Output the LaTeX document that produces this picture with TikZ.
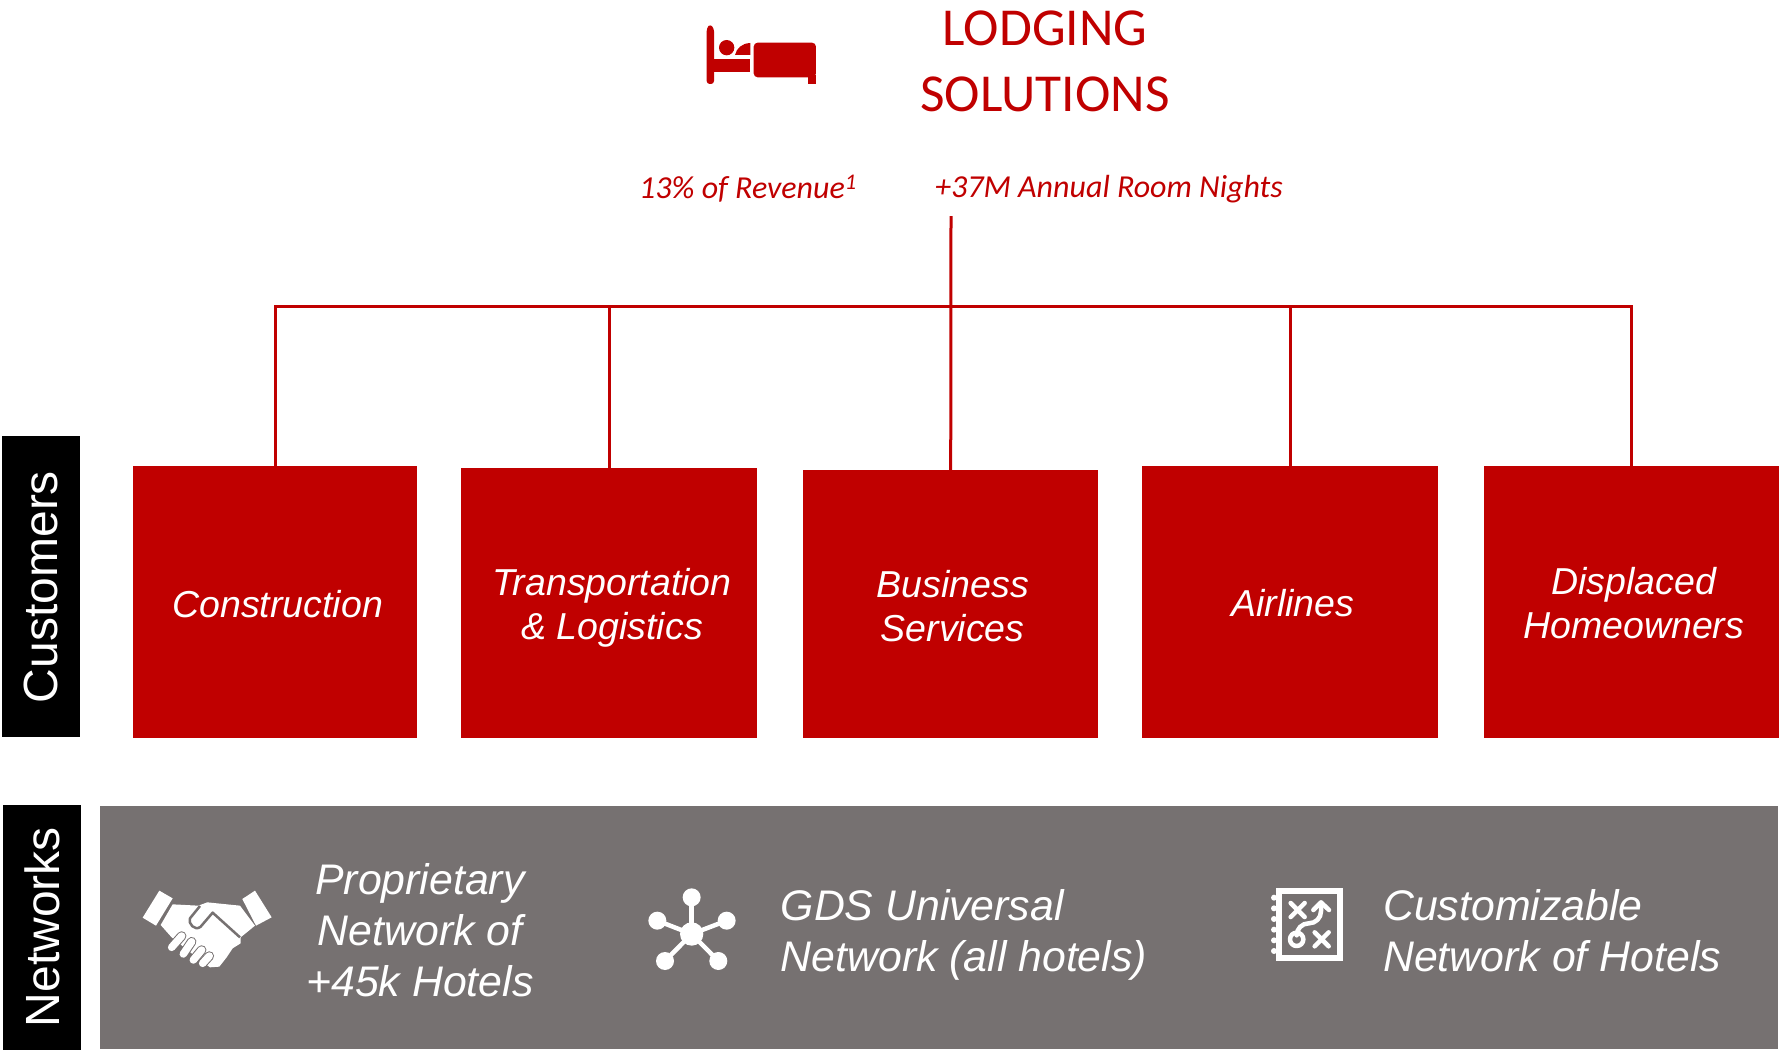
\documentclass[tikz,border=0pt]{standalone}
\usepackage{fontspec}
\setmainfont{Liberation Sans}
\newfontfamily\cali{Carlito}
\definecolor{lodgered}{HTML}{C00000}
\definecolor{netgray}{HTML}{767171}
\tikzset{
  redbox/.style={fill=lodgered,draw=none,inner sep=0pt,anchor=north west},
  boxlab/.style={text=white,font=\fontsize{37.5}{44}\selectfont\itshape,align=center,inner sep=0pt},
  sidelab/.style={fill=black,text=white,rotate=90,inner sep=0pt,font=\fontsize{48}{50}\selectfont},
  netlab/.style={text=white,font=\fontsize{42.8}{51}\selectfont\itshape,inner sep=0pt},
  conn/.style={draw=lodgered,line width=3pt},
  sublab/.style={text=lodgered,font=\cali\fontsize{32}{36}\selectfont\itshape,inner sep=0pt,anchor=west},
}
\begin{document}
\begin{tikzpicture}[x=1pt,y=-1pt]
\useasboundingbox (0,0) rectangle (1787,1049);
% boxes
\node[redbox,minimum width=284pt,minimum height=272pt,label={[boxlab,xshift=2.5pt,yshift=-2pt]center:Construction}] (con) at (133,466) {};
\node[redbox,minimum width=296pt,minimum height=270pt,label={[boxlab,xshift=3pt,yshift=-5pt]center:Transportation\\\& Logistics}] (tra) at (461,468) {};
\node[redbox,minimum width=295pt,minimum height=268pt,label={[boxlab,xshift=2pt,yshift=-2pt]center:Business\\Services}] (bus) at (803,470) {};
\node[redbox,minimum width=296pt,minimum height=272pt,label={[boxlab,xshift=2.5pt,yshift=-1pt]center:Airlines}] (air) at (1142,466) {};
\node[redbox,minimum width=295pt,minimum height=272pt,label={[boxlab,xshift=2pt,yshift=-1pt]center:Displaced\\Homeowners}] (dis) at (1484,466) {};
% connectors
\coordinate (top) at (951,216);
\coordinate (rail) at (951,306.5);
\draw[conn] (top) -- (bus.north);
\draw[conn] (rail) -| (con.north);
\draw[conn] (rail) -| (tra.north);
\draw[conn] (rail) -| (air.north);
\draw[conn] (rail) -| (dis.north);
% side labels
\node[sidelab,minimum width=301pt,minimum height=78pt] (cust) at (41,586) {\raisebox{-1pt}{\hspace{-2pt}Customers}};
\node[sidelab,minimum width=245pt,minimum height=78pt] (netw) at (42,927) {\raisebox{-1pt}{Networks}};
% grey band
\fill[netgray] (100,806) rectangle (1778,1049);
% title
\node[text=lodgered,font=\cali\fontsize{53.4}{66}\selectfont,align=center,inner sep=0pt] (title) at (1045,61.5) {LODGING\\SOLUTIONS};
\node[sublab] (rev) at (639,189) {13\% of Revenue\textsuperscript{1}};
\node[sublab] (rooms) at (935,189) {+37M Annual Room Nights};
% bed icon
\begin{scope}[shift={(680,0)},x=0.3333pt,y=-0.3333pt]
\fill[lodgered,rounded corners=3pt] (80,85) -- (90,72) -- (102,85) -- (102,252) -- (80,252) -- cycle;
\fill[lodgered] (102,178) rectangle (211,215);
\fill[lodgered] (140,143) circle (23);
\fill[lodgered] (165,165) .. controls (170,145) and (185,130) .. (211,129) -- (211,165) -- cycle;
\fill[lodgered,rounded corners=4pt] (221,128) -- (408,128) -- (408,180) -- (408,232) -- (221,232) -- cycle;
\fill[lodgered] (385,225) rectangle (408,252);
\end{scope}
% handshake icon
\begin{scope}[shift={(120,860)},x=0.3333pt,y=-0.3333pt]
\fill[white] (118,92) -- (158,115) -- (108,197) -- (68,173) -- cycle;
\fill[white] (405,92) -- (455,172) -- (408,197) -- (367,117) -- cycle;
\fill[white] (158,133) -- (235,137) -- (262,127) -- (360,137) -- (405,197) -- (362,232) -- (362,250) -- (338,265) -- (320,292) -- (298,320) -- (270,322) -- (240,300) -- (155,232) -- (122,195) -- cycle;
\draw[netgray,line width=2.5pt,line join=round] (240,138) -- (210,175) .. controls (203,190) and (225,215) .. (242,200) -- (278,158) -- (360,232);
\foreach \a/\b/\c/\d in {185/228/155/262,215/245/190/282,245/270/220/300,268/288/248/310}{
  \draw[netgray,line width=9.5pt,line cap=round] (\a,\b) -- (\c,\d);
  \draw[white,line width=7.5pt,line cap=round] (\a,\b) -- (\c,\d);
}
\end{scope}
% network icon
\begin{scope}[shift={(630,870)},x=0.3333pt,y=-0.3333pt]
\foreach \a/\b in {185/82,82/152,290/152,105/273,265/273}{
  \draw[white,line width=4.5pt] (185,192) -- (\a,\b);
  \fill[white] (\a,\b) circle (27);
}
\fill[white] (185,192) circle (35);
\end{scope}
% map icon
\begin{scope}[shift={(1250,870)},x=0.3333pt,y=-0.3333pt]
\foreach \b in {83,115,147,179,211,243}{\fill[white] (72,\b) circle (9);}
\draw[white,line width=5.8pt] (88,63) rectangle (269,264);
\begin{scope}[white,line width=4.5pt,line cap=round,line join=round]
\draw (122,99) -- (164,141) (164,99) -- (122,141);
\draw (194,187) -- (236,229) (236,187) -- (194,229);
\draw (140,208) circle (20);
\draw[rounded corners=12pt] (140,188) -- (140,160) -- (213,160) -- (213,100);
\draw (190,120) -- (213,97) -- (237,120);
\end{scope}
\end{scope}
% network labels
\node[netlab,align=center] (n1) at (420,930) {Proprietary\\Network of\\+45k Hotels};
\node[netlab,align=left,anchor=west] (n2) at (780.5,934.5) {GDS Universal\\Network (all hotels)};
\node[netlab,align=left,anchor=west] (n3) at (1383,930.5) {Customizable\\Network of Hotels};
\end{tikzpicture}
\end{document}
